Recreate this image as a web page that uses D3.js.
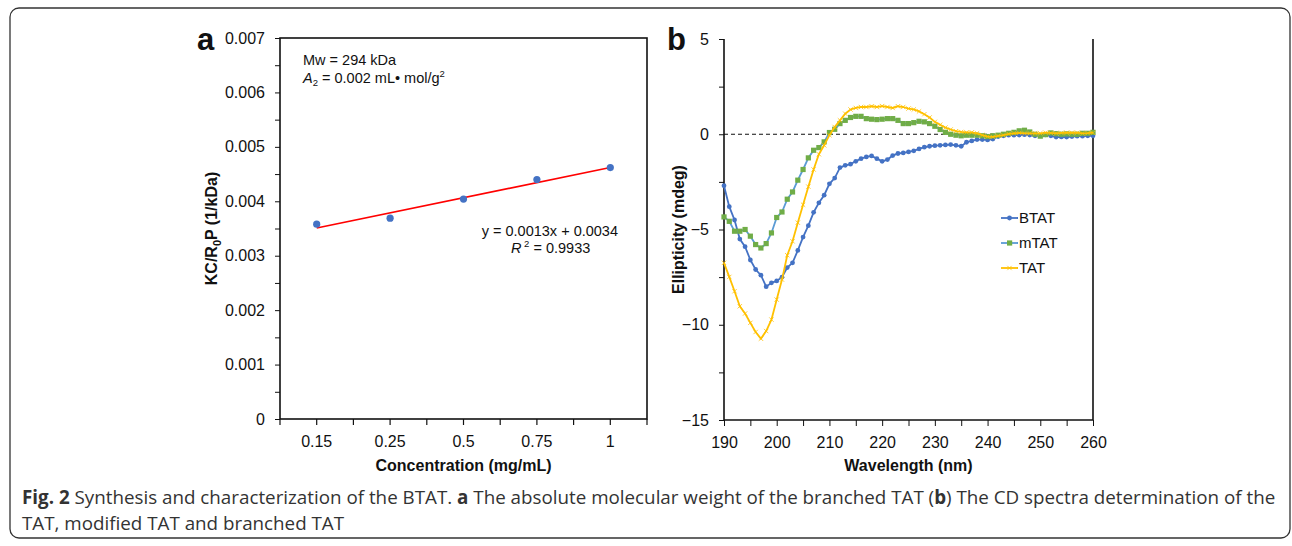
<!DOCTYPE html>
<html>
<head>
<meta charset="utf-8">
<script src="https://cdn.jsdelivr.net/npm/d3@7"></script>
<style>
  body { margin: 0; background: #fff; }
  svg text { font-family: "Liberation Sans", Arial, sans-serif; fill: #111; }
  .axis path, .axis line { stroke: #111; }
  .axis text { font-size: 16px; }
</style>
</head>
<body>
<div id="chart-area"></div>
<script>
// panel a - static light scattering
const concLabels = ["0.15", "0.25", "0.5", "0.75", "1"]
const kcValues = [0.00358, 0.00369, 0.00404, 0.00440, 0.00462]
const trendEnds = [0.00351, 0.00462]
const kcTicks = [0, 0.001, 0.002, 0.003, 0.004, 0.005, 0.006, 0.007]

// panel b - CD spectra, 190..260 nm, 1 nm step
const wavelengths = d3.range(190, 261)
const btat = [-2.7, -3.8, -4.5, -5.5, -5.9, -6.6, -7.1, -7.4, -8.0, -7.8,
  -7.7, -7.5, -7.0, -6.75, -6.1, -5.4, -4.8, -4.1, -3.6, -3.2,
  -2.6, -2.3, -1.75, -1.63, -1.57, -1.42, -1.28, -1.19, -1.14, -1.28,
  -1.42, -1.33, -1.12, -1.01, -0.98, -0.93, -0.87, -0.77, -0.68, -0.63,
  -0.6, -0.58, -0.56, -0.54, -0.58, -0.63, -0.42, -0.35, -0.28, -0.28,
  -0.3, -0.25, -0.12, -0.08, -0.05, -0.05, -0.04, -0.02, -0.04, -0.08,
  -0.06, -0.03, -0.08, -0.15, -0.14, -0.15, -0.12, -0.1, -0.1, -0.08, -0.08]
const mtat = [-4.34, -4.57, -5.09, -5.09, -5.0, -5.35, -5.79, -5.97, -5.74, -5.18,
  -4.37, -4.08, -3.41, -3.03, -2.41, -1.85, -1.24, -0.84, -0.7, -0.4,
  0.09, 0.26, 0.56, 0.73, 0.88, 0.94, 0.94, 0.82, 0.79, 0.77,
  0.79, 0.82, 0.82, 0.73, 0.56, 0.56, 0.61, 0.68, 0.65, 0.56,
  0.42, 0.25, 0.1, 0.0, -0.05, -0.08, -0.05, -0.05, -0.05, -0.08,
  -0.12, -0.08, -0.05, 0.0, 0.05, 0.1, 0.18, 0.21, 0.12, 0.0,
  -0.1, -0.02, 0.07, 0.03, 0.0, 0.02, 0.0, 0.0, 0.05, 0.05, 0.1]
const tat = [-6.75, -7.49, -8.24, -9.03, -9.41, -9.9, -10.38, -10.73, -10.33, -9.73,
  -8.68, -7.63, -6.35, -5.62, -4.64, -3.7, -2.75, -1.85, -1.05, -0.58,
  -0.05, 0.38, 0.73, 1.08, 1.3, 1.38, 1.43, 1.43, 1.47, 1.43,
  1.48, 1.43, 1.38, 1.47, 1.43, 1.35, 1.3, 1.2, 1.05, 0.88,
  0.65, 0.5, 0.35, 0.25, 0.16, 0.12, 0.1, 0.1, 0.05, -0.05,
  -0.12, -0.14, -0.08, -0.05, 0.02, 0.05, 0.07, 0.05, 0.05, 0.05,
  0.05, 0.08, 0.07, 0.05, 0.07, 0.08, 0.08, 0.08, 0.05, 0.06, 0.08]
const seriesNames = ["BTAT", "mTAT", "TAT"]
const wlTicks = d3.range(190, 261, 10)
const ellTicks = [5, 0, -5, -10, -15]

const W = 1292, H = 546
const svg = d3.select("#chart-area").append("svg")
  .attr("width", W)
  .attr("height", H)

// outer frame
svg.append("rect")
  .attr("x", 10).attr("y", 8)
  .attr("width", 1280).attr("height", 530)
  .attr("rx", 9)
  .attr("fill", "none")
  .attr("stroke", "#333")
  .attr("stroke-width", 1.3)

// ---------- panel a ----------
const A = { L: 280, R: 647, T: 38, B: 419 }
const xa = d3.scaleBand().domain(concLabels).range([A.L, A.R]).padding(0)
const ya = d3.scaleLinear().domain([0, 0.007]).range([A.B, A.T])
const cx = d => xa(d) + xa.bandwidth() / 2

const gA = svg.append("g")

gA.append("rect")
  .attr("x", A.L).attr("y", A.T)
  .attr("width", A.R - A.L).attr("height", A.B - A.T)
  .attr("fill", "none").attr("stroke", "#111").attr("stroke-width", 1.6)

// y axis (major + minor)
gA.append("g")
  .attr("class", "axis")
  .attr("transform", `translate(${A.L},0)`)
  .call(d3.axisLeft(ya).tickValues(kcTicks).tickSize(5).tickPadding(10)
    .tickFormat(d => d === 0 ? "0" : d3.format(".3f")(d)))
  .call(g => g.select(".domain").remove())
gA.append("g")
  .attr("class", "axis")
  .attr("transform", `translate(${A.L},0)`)
  .call(d3.axisLeft(ya).tickValues(d3.range(0.0005, 0.007, 0.001)).tickSize(5).tickFormat(""))
  .call(g => g.select(".domain").remove())

// x ticks at band edges and centres
const xTickPos = []
concLabels.forEach(c => { xTickPos.push(xa(c)); xTickPos.push(cx(c)) })
xTickPos.push(A.R)
gA.selectAll(".xt").data(xTickPos).enter().append("line")
  .attr("x1", d => d).attr("x2", d => d)
  .attr("y1", A.B).attr("y2", A.B + 6)
  .attr("stroke", "#111").attr("stroke-width", 1.2)
gA.selectAll(".xl").data(concLabels).enter().append("text")
  .attr("x", d => cx(d)).attr("y", A.B + 28)
  .attr("text-anchor", "middle")
  .attr("font-size", "16px")
  .text(d => d)

// trendline + points
gA.append("line")
  .attr("x1", cx(concLabels[0])).attr("y1", ya(trendEnds[0]))
  .attr("x2", cx(concLabels[4])).attr("y2", ya(trendEnds[1]))
  .attr("stroke", "#ff0000").attr("stroke-width", 1.6)
gA.selectAll("circle").data(concLabels).enter().append("circle")
  .attr("cx", d => cx(d))
  .attr("cy", (d, i) => ya(kcValues[i]))
  .attr("r", 3.6)
  .attr("fill", "#4472c4")

// labels
gA.append("text")
  .attr("x", (A.L + A.R) / 2).attr("y", 471)
  .attr("text-anchor", "middle")
  .attr("font-size", "16px").attr("font-weight", "bold")
  .text("Concentration (mg/mL)")
const yLabA = gA.append("text")
  .attr("transform", `translate(217,${(A.T + A.B) / 2}) rotate(-90)`)
  .attr("text-anchor", "middle")
  .attr("font-size", "16px").attr("font-weight", "bold")
yLabA.append("tspan").text("KC/R")
yLabA.append("tspan").attr("font-size", "11px").attr("dy", 4).text("0")
yLabA.append("tspan").attr("dy", -4).text("P (1/kDa)")

gA.append("text")
  .attr("x", 197).attr("y", 50)
  .attr("font-size", "31px").attr("font-weight", "bold")
  .text("a")

// annotation
gA.append("text").attr("x", 303).attr("y", 65).attr("font-size", "14.5px").text("Mw = 294 kDa")
const a2 = gA.append("text").attr("x", 303).attr("y", 83).attr("font-size", "14.5px")
a2.append("tspan").attr("font-style", "italic").text("A")
a2.append("tspan").attr("font-size", "9.5px").attr("dy", 3).text("2")
a2.append("tspan").attr("dy", -3).text(" = 0.002 mL\u2022 mol/g")
a2.append("tspan").attr("font-size", "9.5px").attr("dy", -6).text("2")

gA.append("text").attr("x", 618).attr("y", 236).attr("text-anchor", "end")
  .attr("font-size", "14.5px").text("y = 0.0013x + 0.0034")
const r2 = gA.append("text").attr("x", 511).attr("y", 253).attr("font-size", "14.5px")
r2.append("tspan").attr("font-style", "italic").text("R")
r2.append("tspan").attr("font-size", "9.5px").attr("dy", -6).text(" 2")
r2.append("tspan").attr("dy", 6).text(" = 0.9933")

// ---------- panel b ----------
const B = { L: 724, R: 1093, T: 39, B: 420 }
const xb = d3.scaleLinear().domain([190, 260]).range([B.L, B.R])
const yb = d3.scaleLinear().domain([-15, 5]).range([B.B, B.T])
const gB = svg.append("g")

// frame: left, bottom, right
gB.append("path")
  .attr("d", `M${B.L},${B.T}V${B.B}H${B.R}V${B.T}`)
  .attr("fill", "none").attr("stroke", "#111").attr("stroke-width", 1.6)

gB.append("g")
  .attr("class", "axis")
  .attr("transform", `translate(${B.L},0)`)
  .call(d3.axisLeft(yb).tickValues(ellTicks).tickSize(5).tickPadding(10))
  .call(g => g.select(".domain").remove())
gB.append("g")
  .attr("class", "axis")
  .attr("transform", `translate(${B.L},0)`)
  .call(d3.axisLeft(yb).tickValues([2.5, -2.5, -7.5, -12.5]).tickSize(5).tickFormat(""))
  .call(g => g.select(".domain").remove())
gB.append("g")
  .attr("class", "axis")
  .attr("transform", `translate(0,${B.B})`)
  .call(d3.axisBottom(xb).tickValues(wlTicks).tickSize(6).tickPadding(11))
  .call(g => g.select(".domain").remove())
gB.append("g")
  .attr("class", "axis")
  .attr("transform", `translate(0,${B.B})`)
  .call(d3.axisBottom(xb).tickValues(d3.range(195, 260, 10)).tickSize(6).tickFormat(""))
  .call(g => g.select(".domain").remove())

// zero reference
gB.append("line")
  .attr("x1", B.L).attr("x2", B.R)
  .attr("y1", yb(0)).attr("y2", yb(0))
  .attr("stroke", "#111").attr("stroke-width", 1.2)
  .attr("stroke-dasharray", "4,3")

const line = d3.line().x((d, i) => xb(wavelengths[i])).y(d => yb(d))

// BTAT
gB.append("path").datum(btat).attr("d", line)
  .attr("fill", "none").attr("stroke", "#4472c4").attr("stroke-width", 1.8)
gB.selectAll(".pb").data(btat).enter().append("circle")
  .attr("cx", (d, i) => xb(wavelengths[i])).attr("cy", d => yb(d))
  .attr("r", 2.4).attr("fill", "#4472c4")

// mTAT
gB.append("path").datum(mtat).attr("d", line)
  .attr("fill", "none").attr("stroke", "#5b9bd5").attr("stroke-width", 1.8)
gB.selectAll(".pm").data(mtat).enter().append("rect")
  .attr("x", (d, i) => xb(wavelengths[i]) - 2.6).attr("y", d => yb(d) - 2.6)
  .attr("width", 5.2).attr("height", 5.2).attr("fill", "#70ad47")

// TAT
gB.append("path").datum(tat).attr("d", line)
  .attr("fill", "none").attr("stroke", "#ffc000").attr("stroke-width", 1.8)
const cross = d3.symbol().type(d3.symbolTimes).size(14)
gB.selectAll(".pt").data(tat).enter().append("path")
  .attr("d", cross)
  .attr("transform", (d, i) => `translate(${xb(wavelengths[i])},${yb(d)})`)
  .attr("fill", "#ffc000").attr("stroke", "#ffc000").attr("stroke-width", 0.8)

// legend
const legColors = [["#4472c4", "#4472c4"], ["#5b9bd5", "#70ad47"], ["#ffc000", "#ffc000"]]
seriesNames.forEach((name, i) => {
  const ly = 218 + i * 25
  gB.append("line").attr("x1", 1001).attr("x2", 1018).attr("y1", ly).attr("y2", ly)
    .attr("stroke", legColors[i][0]).attr("stroke-width", 1.8)
  if (i === 0) gB.append("circle").attr("cx", 1009.5).attr("cy", ly).attr("r", 2.4).attr("fill", legColors[i][1])
  if (i === 1) gB.append("rect").attr("x", 1007).attr("y", ly - 2.6).attr("width", 5.2).attr("height", 5.2).attr("fill", legColors[i][1])
  if (i === 2) gB.append("path").attr("d", cross).attr("transform", `translate(1009.5,${ly})`)
    .attr("stroke", legColors[i][1]).attr("stroke-width", 0.8)
  gB.append("text").attr("x", 1019).attr("y", ly + 5).attr("font-size", "15px").text(name)
})

gB.append("text")
  .attr("x", (B.L + B.R) / 2).attr("y", 471)
  .attr("text-anchor", "middle")
  .attr("font-size", "16px").attr("font-weight", "bold")
  .text("Wavelength (nm)")
gB.append("text")
  .attr("transform", `translate(684,${(B.T + B.B) / 2}) rotate(-90)`)
  .attr("text-anchor", "middle")
  .attr("font-size", "16px").attr("font-weight", "bold")
  .text("Ellipticity (mdeg)")
gB.append("text")
  .attr("x", 667).attr("y", 50)
  .attr("font-size", "31px").attr("font-weight", "bold")
  .text("b")

// ---------- caption ----------
const cap1 = svg.append("text").attr("x", 22).attr("y", 504)
  .attr("font-size", "18.8px")
  .style("font-family", "'Open Sans', sans-serif").style("fill", "#333")
cap1.append("tspan").attr("font-weight", "bold").text("Fig. 2")
cap1.append("tspan").text(" Synthesis and characterization of the BTAT. ")
cap1.append("tspan").attr("font-weight", "bold").text("a")
cap1.append("tspan").text(" The absolute molecular weight of the branched TAT (")
cap1.append("tspan").attr("font-weight", "bold").text("b")
cap1.append("tspan").text(") The CD spectra determination of the")
svg.append("text").attr("x", 22).attr("y", 530)
  .attr("font-size", "18.8px")
  .style("font-family", "'Open Sans', sans-serif").style("fill", "#333")
  .text("TAT, modified TAT and branched TAT")

// keep caption line 1 inside the frame
const w1 = cap1.node().getComputedTextLength()
if (w1 > 1255) cap1.attr("textLength", 1255).attr("lengthAdjust", "spacingAndGlyphs")
</script>
</body>
</html>
